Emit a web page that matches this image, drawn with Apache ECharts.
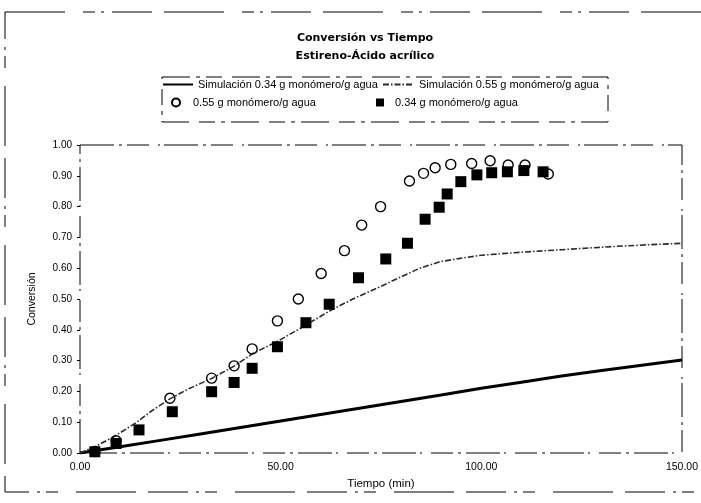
<!DOCTYPE html>
<html>
<head>
<meta charset="utf-8">
<script src="https://cdn.jsdelivr.net/npm/echarts@6/dist/echarts.min.js"></script>
<style>
  html, body { margin: 0; padding: 0; background: #fff; }
  #chart { width: 701px; height: 503px; }
</style>
</head>
<body>
<div id="chart"></div>
<script>
// Conversion vs time for the styrene / acrylic acid system
var FONT = "Arial, 'Liberation Sans', sans-serif";
var TITLE_FONT = "'DejaVu Sans', Arial, sans-serif";

var titleMain = 'Conversión vs Tiempo';
var titleSub = 'Estireno-Ácido acrílico';
var xAxisName = 'Tiempo (min)';
var yAxisName = 'Conversión';

var nameSim034 = 'Simulación 0.34 g monómero/g agua';
var nameSim055 = 'Simulación 0.55 g monómero/g agua';
var nameExp055 = '0.55 g monómero/g agua';
var nameExp034 = '0.34 g monómero/g agua';

// Simulated curve, 0.34 g monomer / g water: [time (min), conversion]
var sim034 = [
  [0, 0.000], [10, 0.020], [20, 0.041], [30, 0.062], [40, 0.083],
  [50, 0.104], [60, 0.125], [70, 0.146], [80, 0.167], [90, 0.188],
  [100, 0.210], [110, 0.230], [120, 0.250], [130, 0.268], [140, 0.285],
  [150, 0.302]
];

// Simulated curve, 0.55 g monomer / g water
var sim055 = [
  [0, 0.000], [4, 0.022], [8.7, 0.055], [13.7, 0.096], [18, 0.138],
  [22.3, 0.175], [27, 0.208], [32.8, 0.242], [38.4, 0.282], [43.2, 0.324],
  [49, 0.361], [55.6, 0.410], [62.3, 0.462], [68, 0.500], [74.8, 0.540],
  [80, 0.572], [84.7, 0.600], [89.7, 0.621], [94.7, 0.632], [100, 0.642],
  [110, 0.652], [120, 0.660], [126, 0.665], [135, 0.672], [150, 0.681]
];

// Measured conversion, 0.55 g monomer / g water
var exp055 = [
  [3.7, 0.005], [9, 0.040], [22.4, 0.178], [32.8, 0.243], [38.4, 0.283],
  [42.9, 0.338], [49.2, 0.429], [54.4, 0.500], [60.1, 0.583], [65.9, 0.657],
  [70.2, 0.740], [74.9, 0.800], [82.1, 0.883], [85.6, 0.908], [88.5, 0.926],
  [92.4, 0.937], [97.6, 0.940], [102.2, 0.949], [106.7, 0.935], [110.9, 0.935],
  [116.7, 0.906]
];

// Measured conversion, 0.34 g monomer / g water
var exp034 = [
  [3.7, 0.004], [9, 0.031], [14.7, 0.075], [23, 0.134], [32.8, 0.199],
  [38.4, 0.229], [42.9, 0.275], [49.2, 0.345], [56.3, 0.423], [62.1, 0.483],
  [69.4, 0.569], [76.2, 0.630], [81.6, 0.681], [86, 0.759], [89.5, 0.798],
  [91.5, 0.841], [94.9, 0.881], [98.9, 0.903], [102.6, 0.910], [106.5, 0.913],
  [110.6, 0.917], [115.4, 0.913]
];

var xMin = 0, xMax = 150, xStep = 50;
var yMin = 0, yMax = 1, yStep = 0.1;

var chart = echarts.init(document.getElementById('chart'), null, { renderer: 'canvas' });

var legendText = { color: '#000', fontFamily: FONT, fontSize: 11 };
var titleText = { fontFamily: TITLE_FONT, fontSize: 11, fontWeight: 'bold', color: '#000' };

chart.setOption({
  backgroundColor: '#fff',
  animation: false,
  title: [
    { text: titleMain, left: 360, top: 28, textAlign: 'center', textStyle: titleText },
    { text: titleSub, left: 360, top: 46, textAlign: 'center', textStyle: titleText }
  ],
  legend: [
    // line entries: hide the marker drawn over the line sample
    { data: [nameSim034], left: 162, top: 79, itemWidth: 30, itemHeight: 10,
      padding: 0, itemStyle: { opacity: 0 }, textStyle: legendText },
    { data: [nameSim055], left: 382, top: 79, itemWidth: 31, itemHeight: 10,
      padding: 0, itemStyle: { opacity: 0 }, textStyle: legendText },
    { data: [nameExp055], left: 171, top: 97, itemWidth: 8, itemHeight: 8,
      padding: 0, textStyle: Object.assign({ padding: [0, 0, 0, 8] }, legendText) },
    { data: [nameExp034], left: 376, top: 97, itemWidth: 8, itemHeight: 8,
      padding: 0, textStyle: Object.assign({ padding: [0, 0, 0, 6] }, legendText) }
  ],
  grid: { left: 80, right: 19, top: 145, bottom: 50, containLabel: false },
  xAxis: {
    type: 'value', min: xMin, max: xMax, interval: xStep,
    name: xAxisName, nameLocation: 'middle', nameGap: 22,
    nameTextStyle: { fontFamily: FONT, fontSize: 11.5, color: '#000' },
    axisLine: { show: false },
    axisTick: { show: false },
    splitLine: { show: false },
    axisLabel: {
      fontFamily: FONT, fontSize: 10.5, color: '#000', margin: 9,
      formatter: function (v) { return v.toFixed(2); }
    }
  },
  yAxis: {
    type: 'value', min: yMin, max: yMax, interval: yStep,
    name: yAxisName, nameLocation: 'middle', nameGap: 42,
    nameTextStyle: { fontFamily: FONT, fontSize: 10.5, color: '#000' },
    axisLine: { show: false },
    axisTick: { show: true, length: 3, lineStyle: { color: '#000', width: 1 } },
    splitLine: { show: false },
    axisLabel: {
      fontFamily: FONT, fontSize: 10, color: '#000', margin: 8,
      formatter: function (v) { return v.toFixed(2); }
    }
  },
  graphic: [
    // outer frame of the figure
    { type: 'rect', silent: true, z: -1,
      shape: { x: 5, y: 12, width: 700, height: 480 },
      style: { fill: 'none', stroke: '#000', lineWidth: 1, lineDash: [60, 18, 12, 6, 3, 8, 40, 12] } },
    // legend box
    { type: 'rect', silent: true, z: -1,
      shape: { x: 162, y: 77, width: 446, height: 45 },
      style: { fill: 'none', stroke: '#000', lineWidth: 1, lineDash: [28, 6, 4, 6, 16, 10] } },
    // plot area frame
    { type: 'rect', silent: true, z: -1,
      shape: { x: 80, y: 145, width: 602, height: 308 },
      style: { fill: 'none', stroke: '#000', lineWidth: 1, lineDash: [34, 5, 3, 5, 22, 9, 2, 4] } }
  ],
  series: [
    {
      name: nameSim034, type: 'line', data: sim034, symbol: 'none', z: 2,
      lineStyle: { color: '#000', width: 3 },
      itemStyle: { color: '#000' }
    },
    {
      name: nameSim055, type: 'line', data: sim055, symbol: 'none', z: 2,
      lineStyle: { color: '#2a2a2a', width: 1.6, type: [6, 2, 1.5, 2] },
      itemStyle: { color: '#2a2a2a' }
    },
    {
      name: nameExp055, type: 'scatter', data: exp055, symbol: 'circle', symbolSize: 10, z: 3,
      itemStyle: { color: 'rgba(255,255,255,0)', borderColor: '#000', borderWidth: 1.4, opacity: 1 }
    },
    {
      name: nameExp034, type: 'scatter', data: exp034, symbol: 'rect', symbolSize: 11, z: 4,
      itemStyle: { color: '#000', opacity: 1 }
    }
  ]
});
</script>
</body>
</html>
